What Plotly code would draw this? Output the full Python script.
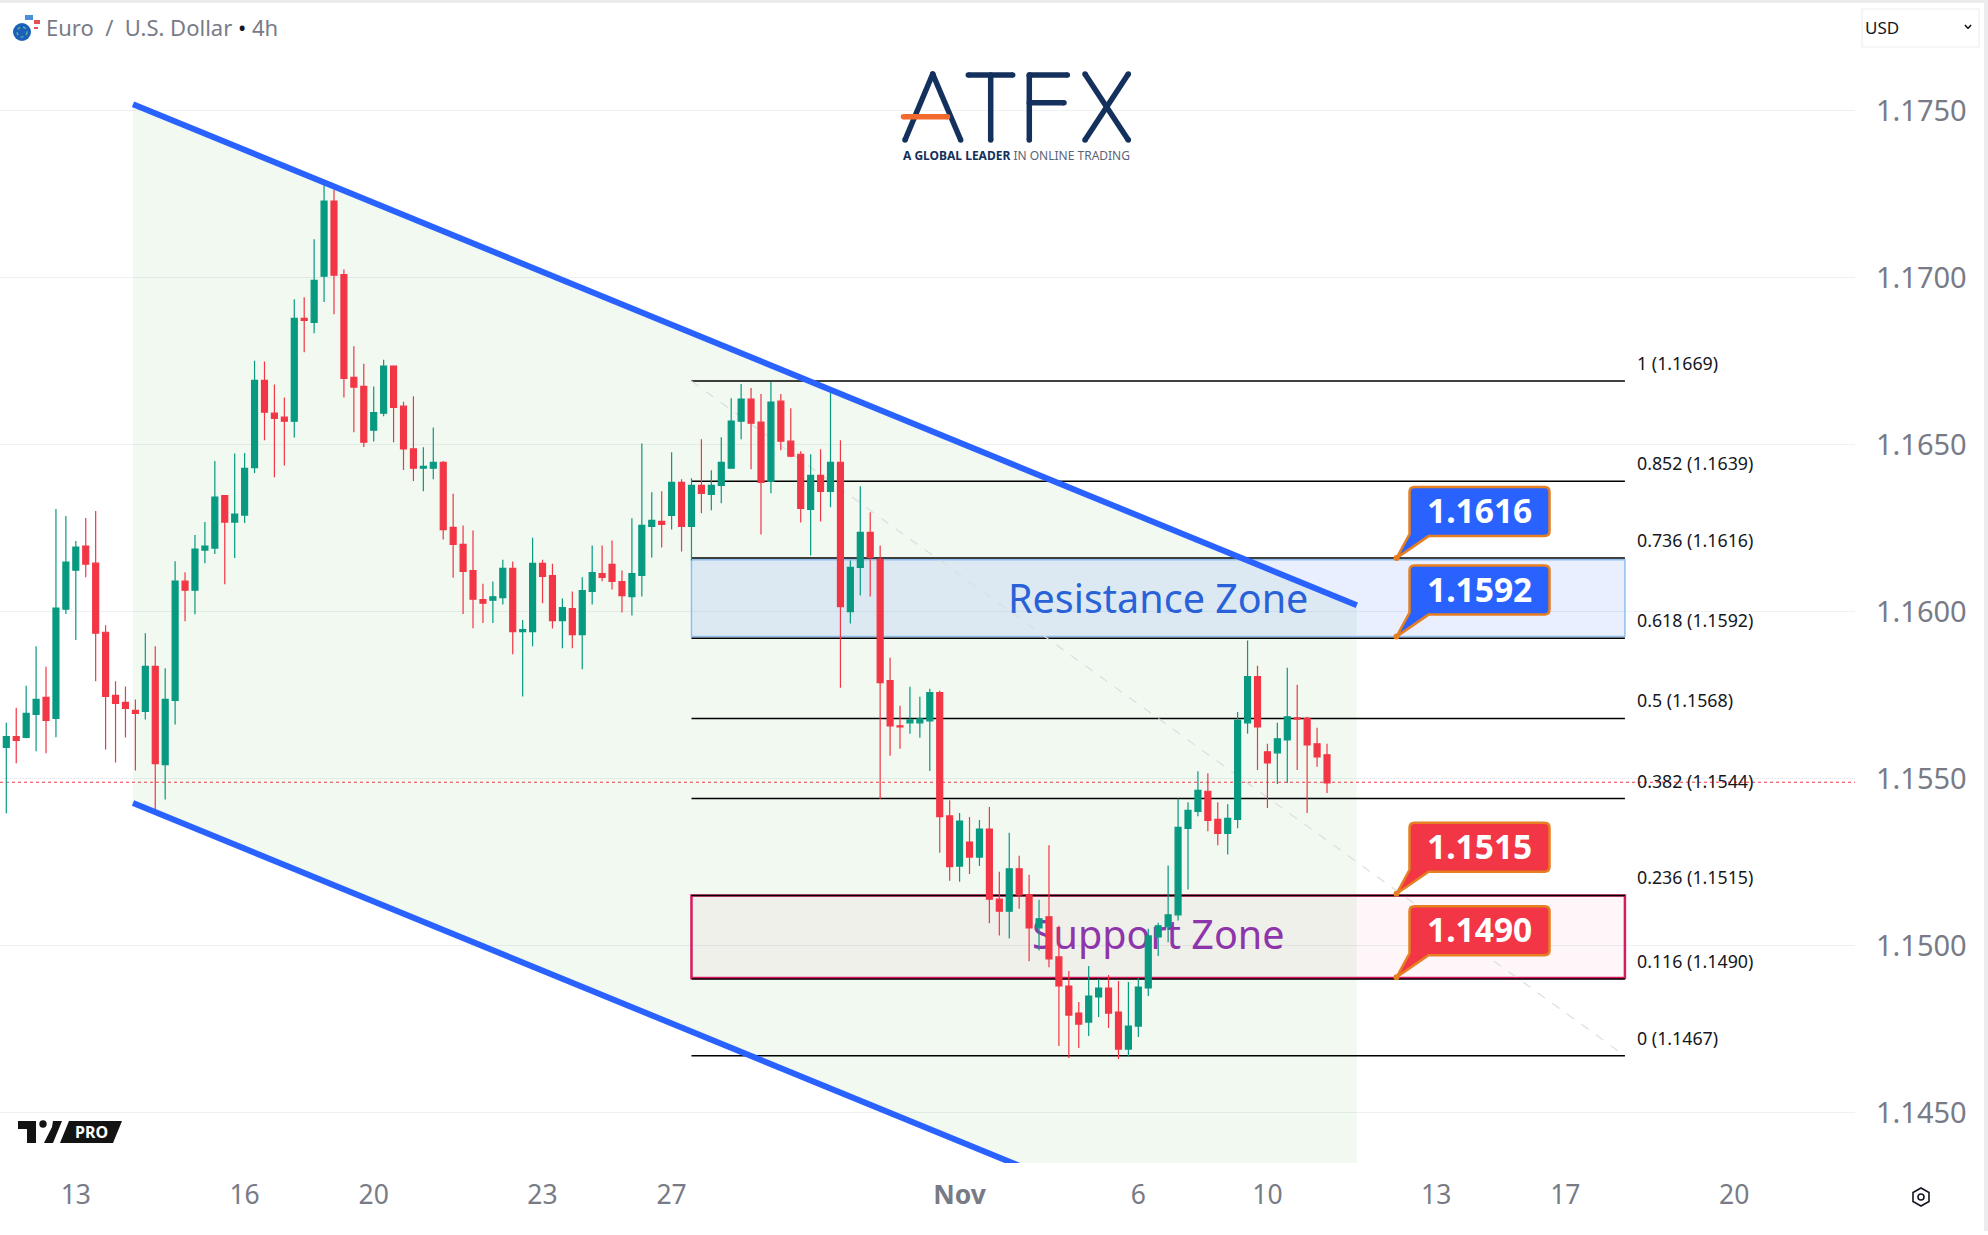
import plotly.graph_objects as go

W, H = 1988, 1235
PLOT_RIGHT, PLOT_BOTTOM = 1855, 1163

# EUR/USD 4h candles
opens = [1.15593, 1.15626, 1.15623, 1.15692, 1.15743, 1.15680, 1.16007, 1.16124, 1.16196, 1.16145,
         1.15938, 1.15749, 1.15728, 1.15704, 1.15701, 1.15836, 1.15542, 1.15734, 1.16091, 1.16064,
         1.16184, 1.16190, 1.16347, 1.16268, 1.16289, 1.16431, 1.16692, 1.16594, 1.16582, 1.16570,
         1.16878, 1.16866, 1.17004, 1.17229, 1.17009, 1.16701, 1.16674, 1.16543, 1.16594, 1.16735,
         1.16615, 1.16487, 1.16429, 1.16429, 1.16447, 1.16252, 1.16201, 1.16123, 1.16036, 1.16034,
         1.16042, 1.16129, 1.15940, 1.15940, 1.16144, 1.16108, 1.15973, 1.16009, 1.15931, 1.16060,
         1.16114, 1.16141, 1.16090, 1.16045, 1.16108, 1.16255, 1.16270, 1.16288, 1.16387, 1.16255,
         1.16378, 1.16351, 1.16378, 1.16429, 1.16570, 1.16636, 1.16567, 1.16390, 1.16630, 1.16510,
         1.16471, 1.16306, 1.16408, 1.16360, 1.16447, 1.16000, 1.16132, 1.16237, 1.16156, 1.15793,
         1.15658, 1.15667, 1.15667, 1.15673, 1.15757, 1.15388, 1.15238, 1.15310, 1.15265, 1.15349,
         1.15139, 1.15103, 1.15230, 1.15152, 1.15053, 1.15086, 1.14966, 1.14879, 1.14798, 1.14771,
         1.14846, 1.14873, 1.14801, 1.14690, 1.14759, 1.14873, 1.15026, 1.15056, 1.15092, 1.15351,
         1.15402, 1.15462, 1.15378, 1.15336, 1.15378, 1.15667, 1.15805, 1.15580, 1.15577, 1.15616,
         1.15682, 1.15680, 1.15604, 1.15571]
highs = [1.15667, 1.15712, 1.15778, 1.15896, 1.15835, 1.16307, 1.16286, 1.16211, 1.16280, 1.16301,
         1.15959, 1.15791, 1.15776, 1.15737, 1.15935, 1.15896, 1.15830, 1.16151, 1.16118, 1.16229,
         1.16268, 1.16451, 1.16349, 1.16473, 1.16475, 1.16751, 1.16749, 1.16680, 1.16641, 1.16935,
         1.16941, 1.17115, 1.17277, 1.17263, 1.17024, 1.16794, 1.16742, 1.16674, 1.16754, 1.16735,
         1.16628, 1.16645, 1.16492, 1.16551, 1.16451, 1.16353, 1.16258, 1.16243, 1.16083, 1.16090,
         1.16155, 1.16150, 1.15975, 1.16221, 1.16155, 1.16143, 1.16039, 1.16060, 1.16103, 1.16198,
         1.16198, 1.16213, 1.16123, 1.16279, 1.16503, 1.16357, 1.16360, 1.16477, 1.16396, 1.16399,
         1.16516, 1.16423, 1.16522, 1.16639, 1.16681, 1.16669, 1.16651, 1.16687, 1.16651, 1.16609,
         1.16480, 1.16471, 1.16486, 1.16655, 1.16513, 1.16153, 1.16375, 1.16297, 1.16198, 1.15862,
         1.15718, 1.15775, 1.15745, 1.15769, 1.15763, 1.15435, 1.15397, 1.15385, 1.15376, 1.15415,
         1.15221, 1.15338, 1.15269, 1.15212, 1.15137, 1.15300, 1.15059, 1.14924, 1.14831, 1.14939,
         1.14900, 1.14912, 1.14894, 1.14891, 1.14903, 1.15050, 1.15068, 1.15240, 1.15440, 1.15429,
         1.15522, 1.15516, 1.15429, 1.15423, 1.15699, 1.15913, 1.15838, 1.15604, 1.15667, 1.15832,
         1.15781, 1.15685, 1.15652, 1.15604]
lows = [1.15396, 1.15546, 1.15621, 1.15582, 1.15576, 1.15624, 1.15993, 1.15915, 1.16103, 1.15791,
        1.15587, 1.15548, 1.15623, 1.15524, 1.15677, 1.15401, 1.15437, 1.15662, 1.15971, 1.15992,
        1.16145, 1.16172, 1.16082, 1.16160, 1.16265, 1.16415, 1.16513, 1.16402, 1.16437, 1.16521,
        1.16776, 1.16833, 1.16927, 1.16890, 1.16641, 1.16537, 1.16493, 1.16509, 1.16585, 1.16507,
        1.16424, 1.16391, 1.16360, 1.16396, 1.16216, 1.16101, 1.15993, 1.15950, 1.15966, 1.15966,
        1.16021, 1.15872, 1.15746, 1.15896, 1.16025, 1.15949, 1.15890, 1.15890, 1.15827, 1.16021,
        1.16091, 1.16066, 1.15997, 1.15988, 1.16045, 1.16162, 1.16192, 1.16246, 1.16180, 1.16153,
        1.16294, 1.16303, 1.16324, 1.16429, 1.16516, 1.16426, 1.16231, 1.16354, 1.16483, 1.16462,
        1.16267, 1.16168, 1.16270, 1.16312, 1.15772, 1.15964, 1.16048, 1.16045, 1.15439, 1.15568,
        1.15589, 1.15634, 1.15622, 1.15523, 1.15278, 1.15194, 1.15191, 1.15214, 1.15238, 1.15067,
        1.15030, 1.15021, 1.15110, 1.14953, 1.14985, 1.14935, 1.14699, 1.14663, 1.14693, 1.14729,
        1.14786, 1.14753, 1.14660, 1.14667, 1.14726, 1.14849, 1.14969, 1.15010, 1.15075, 1.15168,
        1.15387, 1.15342, 1.15300, 1.15273, 1.15351, 1.15634, 1.15526, 1.15412, 1.15484, 1.15487,
        1.15526, 1.15397, 1.15535, 1.15457]
closes = [1.15626, 1.15614, 1.15695, 1.15737, 1.15674, 1.16010, 1.16148, 1.16193, 1.16142, 1.15935,
          1.15746, 1.15725, 1.15710, 1.15695, 1.15836, 1.15545, 1.15737, 1.16091, 1.16064, 1.16187,
          1.16196, 1.16343, 1.16268, 1.16292, 1.16429, 1.16692, 1.16597, 1.16578, 1.16570, 1.16878,
          1.16872, 1.16992, 1.17229, 1.17007, 1.16698, 1.16672, 1.16507, 1.16596, 1.16735, 1.16611,
          1.16487, 1.16429, 1.16435, 1.16447, 1.16245, 1.16201, 1.16120, 1.16037, 1.16025, 1.16044,
          1.16129, 1.15940, 1.15946, 1.16144, 1.16105, 1.15973, 1.16012, 1.15931, 1.16063, 1.16117,
          1.16102, 1.16090, 1.16048, 1.16114, 1.16258, 1.16273, 1.16261, 1.16387, 1.16255, 1.16378,
          1.16354, 1.16378, 1.16447, 1.16570, 1.16636, 1.16564, 1.16387, 1.16627, 1.16510, 1.16465,
          1.16309, 1.16408, 1.16360, 1.16447, 1.16015, 1.16132, 1.16237, 1.16162, 1.15787, 1.15658,
          1.15655, 1.15676, 1.15679, 1.15757, 1.15386, 1.15236, 1.15373, 1.15265, 1.15349, 1.15139,
          1.15103, 1.15230, 1.15152, 1.15053, 1.15080, 1.14960, 1.14879, 1.14792, 1.14765, 1.14849,
          1.14873, 1.14798, 1.14690, 1.14759, 1.14876, 1.15029, 1.15059, 1.15092, 1.15354, 1.15405,
          1.15465, 1.15375, 1.15336, 1.15381, 1.15675, 1.15805, 1.15655, 1.15547, 1.15619, 1.15685,
          1.15678, 1.15601, 1.15565, 1.15487]
candle_idx = list(range(len(opens)))

# time axis, candles count from 0 and there are no weekend gaps
tick_idx = [7, 24, 37, 54, 67, 96, 114, 127, 144, 157, 174]
tick_text = ['13', '16', '20', '23', '27', '<b>Nov</b>', '6', '10', '13', '17', '20']
x_range = [-0.634, 186.17]
y_range = [1.14349, 1.17831]
last_price = 1.15489

# descending channel
channel_idx = [12.76, 136.0]
channel_upper = [1.17519, 1.16019]
channel_lower = [1.15427, 1.13927]

# fib retracement
fib_idx = [69, 163]
fib_ratio = ['1', '0.852', '0.736', '0.618', '0.5', '0.382', '0.236', '0.116', '0']
fib_price = [1.1669, 1.1639, 1.1616, 1.1592, 1.1568, 1.1544, 1.1515, 1.1490, 1.1467]
fib_label_idx = 164.0

# callouts: printed price, and where the tip really sits on the chart
callout_idx = 140
callout_price = [1.1616, 1.1592, 1.1515, 1.1490]
callout_tip = [1.1616, 1.15925, 1.15155, 1.14905]
callout_color = ['#2962ff', '#2962ff', '#f23645', '#f23645']

BLUE = '#2962ff'
GRAY = '#787b86'
FONT = 'Noto Sans'


def px(x, y):
    return x / W, 1 - y / H


def poly(points, fill, line=None, width=0):
    parts = []
    for i, (x, y) in enumerate(points):
        a, b = px(x, y)
        parts.append(f"{'M' if i == 0 else 'L'} {a:.5f} {b:.5f}")
    return dict(type='path', xref='paper', yref='paper', path=' '.join(parts) + ' Z',
                fillcolor=fill, line=dict(color=line or fill, width=width), layer='above')


def dot(x, y, r, fill, line=None, width=0, dash='solid', layer='above'):
    x0, y1 = px(x - r, y - r)
    x1, y0 = px(x + r, y + r)
    return dict(type='circle', xref='paper', yref='paper', x0=x0, x1=x1, y0=y0, y1=y1, fillcolor=fill,
                line=dict(color=line or fill, width=width, dash=dash), layer=layer)


def seg(x0, y0, x1, y1, color, width):
    a0, b0 = px(x0, y0)
    a1, b1 = px(x1, y1)
    return [dict(type='line', xref='paper', yref='paper', x0=a0, y0=b0, x1=a1, y1=b1,
                 line=dict(color=color, width=width), layer='above'),
            dot(x0, y0, width / 2, color), dot(x1, y1, width / 2, color)]


def label(x, y, text, size, color, anchor='left', family=FONT):
    a, b = px(x, y)
    return dict(xref='paper', yref='paper', x=a, y=b, text=text, showarrow=False, xanchor=anchor,
                yanchor='middle', font=dict(family=family, size=size, color=color))


def callout_path(color):
    l, r, b, t, c = 13, 153, 22, 71, 5
    return dict(type='path', xref='x', yref='y', xsizemode='pixel', ysizemode='pixel', layer='above',
                path=(f'M 0 0 L 32 {b} L {r - c} {b} Q {r} {b} {r} {b + c} L {r} {t - c} Q {r} {t} {r - c} {t} '
                      f'L {l + c} {t} Q {l} {t} {l} {t - c} L {l} {b + 2} Z'),
                fillcolor=color, line=dict(color='#e67e22', width=2.5))


shapes = []

# card behind the chart
x0, y1 = px(0, 3)
x1, y0 = px(1984, 1231)
shapes.append(dict(type='rect', xref='paper', yref='paper', x0=x0, x1=x1, y0=y0, y1=y1,
                   fillcolor='white', line_width=0, layer='below'))
shapes.append(dict(type='rect', xref='paper', yref='paper', x0=0, x1=1, y0=0, y1=4 / H,
                   fillcolor='white', line_width=0, layer='below'))

# channel fill
ch_path = (f'M {channel_idx[0]} {channel_upper[0]} L {channel_idx[1]} {channel_upper[1]} '
           f'L {channel_idx[1]} {channel_lower[1]} L {channel_idx[0]} {channel_lower[0]} Z')
shapes.append(dict(type='path', xref='x', yref='y', path=ch_path, fillcolor='rgba(76,175,80,0.08)',
                   line_width=0, layer='between'))

# zones
shapes.append(dict(type='rect', xref='x', yref='y', x0=fib_idx[0], x1=fib_idx[1], y0=1.15925, y1=1.16155,
                   fillcolor='rgba(41,98,255,0.1)', line=dict(color='#90bfef', width=1.5), layer='between',
                   label=dict(text='Resistance Zone', textposition='bottom center', padding=9,
                              font=dict(family=FONT, size=39.5, color='#2962d8'))))
shapes.append(dict(type='rect', xref='x', yref='y', x0=fib_idx[0], x1=fib_idx[1], y0=1.14903, y1=1.1515,
                   fillcolor='rgba(233,30,99,0.04)', line=dict(color='#d81b60', width=2.5), layer='between',
                   label=dict(text='Support Zone', textposition='middle center',
                              font=dict(family=FONT, size=39.5, color='#8e35ab'))))

# current price
shapes.append(dict(type='line', xref='paper', yref='y', x0=0, x1=PLOT_RIGHT / W, y0=last_price, y1=last_price,
                   line=dict(color='#f23645', width=1, dash='dot'), layer='between'))

# fib levels and the dashed trend line
for p in fib_price:
    shapes.append(dict(type='line', xref='x', yref='y', x0=fib_idx[0], x1=fib_idx[1], y0=p, y1=p,
                       line=dict(color='#000000', width=1.5), layer='between'))
shapes.append(dict(type='line', xref='x', yref='y', x0=fib_idx[0], x1=fib_idx[1], y0=fib_price[0], y1=fib_price[-1],
                   line=dict(color='#dcdede', width=1.2, dash='dash'), layer='between'))

# channel lines
for ys in (channel_upper, channel_lower):
    shapes.append(dict(type='line', xref='x', yref='y', x0=channel_idx[0], x1=channel_idx[1], y0=ys[0], y1=ys[1],
                       line=dict(color=BLUE, width=6), layer='above'))

# price callouts
for p, c in zip(callout_tip, callout_color):
    shape = callout_path(c)
    shape.update(xanchor=callout_idx, yanchor=p)
    shapes.append(shape)
    shapes.append(dict(type='circle', xref='x', yref='y', xsizemode='pixel', ysizemode='pixel', xanchor=callout_idx,
                       yanchor=p, x0=-3, x1=3, y0=-3, y1=3, fillcolor='#e67e22', line_width=0, layer='above'))

# ATFX logo
NAVY = '#14305c'
logo_segs = [(905, 140, 932.7, 74), (932.7, 74, 960.7, 140), (968.3, 75, 1012.7, 75), (990.7, 75, 990.7, 140),
             (1029.3, 75, 1067.3, 75), (1029.3, 75, 1029.3, 140), (1029.3, 102.7, 1064, 102.7),
             (1085, 74, 1128.3, 140), (1128.3, 74, 1085, 140)]
for s in logo_segs:
    shapes += seg(*s, NAVY, 5.5)
shapes += seg(903.5, 116.7, 947.5, 116.7, '#f26a2e', 5.5)

# TradingView PRO badge
shapes.append(poly([(18, 1121), (36, 1121), (36, 1143), (27, 1143), (27, 1129), (18, 1129)], '#131313'))
shapes.append(dot(43, 1124, 3.7, '#131313'))
shapes.append(poly([(62, 1121), (53, 1143), (44, 1143), (52, 1127), (53, 1121)], '#131313'))
shapes.append(poly([(69, 1121), (122, 1121), (113, 1143), (60, 1143)], '#131313'))

# flags next to the symbol name
shapes.append(dot(32, 22, 8, '#ffffff'))
shapes.append(poly([(34, 20), (40, 20), (40, 24), (34, 24)], '#e8505b'))
shapes.append(poly([(34, 27), (38, 27), (38, 29), (34, 29)], '#e8505b'))
shapes.append(poly([(25, 15), (33, 15), (33, 20), (25, 20)], '#4a8fd8'))
shapes.append(dot(22, 32, 9, '#1a62b8'))
shapes.append(dot(22, 32, 5, 'rgba(0,0,0,0)', line='#6fb7a0', width=1.2, dash='dot'))

# currency button
a0, b1 = px(1862, 9)
a1, b0 = px(1979, 47)
shapes.append(dict(type='rect', xref='paper', yref='paper', x0=a0, x1=a1, y0=b0, y1=b1, fillcolor='rgba(0,0,0,0)',
                   line=dict(color='#eceef1', width=1.2), layer='above'))
for s in [(1965, 25, 1968, 28.5), (1968, 28.5, 1971, 25)]:
    a, b = px(s[0], s[1])
    c, d = px(s[2], s[3])
    shapes.append(dict(type='line', xref='paper', yref='paper', x0=a, y0=b, x1=c, y1=d,
                       line=dict(color='#131722', width=1.6), layer='above'))

# settings icon
hex_pts = [(1921, 1188), (1929, 1192.5), (1929, 1201.5), (1921, 1206), (1913, 1201.5), (1913, 1192.5)]
shapes.append(poly(hex_pts, 'rgba(0,0,0,0)', line='#131722', width=1.6))
shapes.append(dot(1921, 1197, 3, 'rgba(0,0,0,0)', line='#131722', width=1.6))

annotations = [
    label(44, 27, 'Euro \u00a0/\u00a0 U.S. Dollar <span style="color:#131722">•</span> 4h', 22, GRAY),
    label(1863, 27, 'USD', 17, '#131722'),
    label(91, 1132, '<b>PRO</b>', 16, 'white', anchor='center'),
    label(1016, 156, '<b>A GLOBAL LEADER</b> <span style="color:#5a6478">IN ONLINE TRADING</span>', 12, NAVY,
          anchor='center'),
]
for r, p in zip(fib_ratio, fib_price):
    annotations.append(dict(xref='x', yref='y', x=fib_label_idx, y=p, text=f'{r} ({p:.4f})', showarrow=False,
                            xanchor='left', yanchor='middle', yshift=18,
                            font=dict(family=FONT, size=17.8, color='#131722')))
for p, tip in zip(callout_price, callout_tip):
    annotations.append(dict(xref='x', yref='y', x=callout_idx, y=tip, text=f'<b>{p:.4f}</b>', showarrow=False,
                            xanchor='center', yanchor='middle', xshift=83, yshift=48,
                            font=dict(family=FONT, size=33.5, color='white')))

fig = go.Figure(go.Candlestick(
    x=candle_idx, open=opens, high=highs, low=lows, close=closes,
    increasing=dict(line=dict(color='#089981', width=1.2), fillcolor='#089981'),
    decreasing=dict(line=dict(color='#f23645', width=1.2), fillcolor='#f23645'),
    whiskerwidth=0, hoverinfo='skip', showlegend=False,
))

fig.update_xaxes(domain=[0, PLOT_RIGHT / W], range=x_range, rangeslider_visible=False, showgrid=False,
                 zeroline=False, showline=False, tickmode='array', tickvals=tick_idx, ticktext=tick_text,
                 ticks='', ticklabelstandoff=13, tickfont=dict(family=FONT, size=26.5, color=GRAY))
fig.update_yaxes(domain=[1 - PLOT_BOTTOM / H, 1], range=y_range, side='right', showgrid=True, gridcolor='#eef0f3',
                 gridwidth=1, zeroline=False, showline=False, dtick=0.005, tick0=1.145, tickformat='.4f',
                 ticks='', ticklabelstandoff=20, tickfont=dict(family=FONT, size=29, color=GRAY))
fig.update_layout(width=W, height=H, margin=dict(l=0, r=0, t=0, b=0), paper_bgcolor='#ececee',
                  plot_bgcolor='rgba(0,0,0,0)', boxgap=0.4, boxgroupgap=0, shapes=shapes, annotations=annotations,
                  hovermode=False, showlegend=False)

fig.write_html("out.html", config=dict(displayModeBar=False),
               post_script="document.body.style.margin='0';document.body.style.overflow='hidden';")
